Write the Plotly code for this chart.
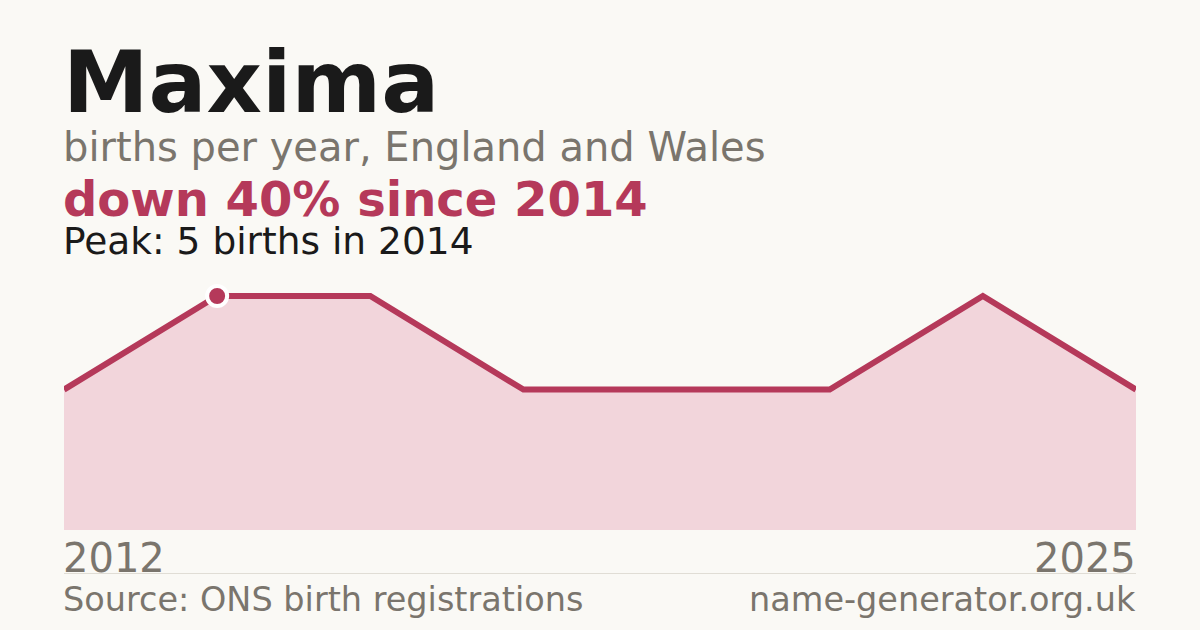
import plotly.graph_objects as go

# ---- data ----
years = [2012, 2014, 2016, 2018, 2020, 2022, 2024, 2025]
births = [3, 5, 5, 3, 3, 3, 5, 3]
first_label = "2012"
last_label = "2025"

title = "Maxima"
subtitle = "births per year, England and Wales"
headline = "down 40% since 2014"
peak_text = "Peak: 5 births in 2014"
source_text = "Source: ONS birth registrations"
site_text = "name-generator.org.uk"

# ---- styling ----
BG = "#faf9f5"
RED = "#b5395a"
FILL = "#f2d5db"
DARK = "#1a1a1a"
GREY = "#7a756d"
FONT = "DejaVu Sans"

W, H = 1200, 630
PLOT_TOP, PLOT_BOT = 270, 530
PH = PLOT_BOT - PLOT_TOP


def py(pix):
    return (PLOT_BOT - pix) / PH


def bottom_for(baseline, size):
    return py(baseline + 0.236 * size + 1)


xs = list(range(len(births)))
peak_i = births.index(max(births))
ymax = max(births)
yrange_top = ymax * PH / (PLOT_BOT - 296)

fig = go.Figure()
fig.add_trace(go.Scatter(
    x=xs, y=births, mode="lines",
    line=dict(color=RED, width=6, shape="linear"),
    fill="tozeroy", fillcolor=FILL, hoverinfo="skip",
))
fig.add_trace(go.Scatter(
    x=[xs[peak_i]], y=[births[peak_i]], mode="markers",
    marker=dict(color=RED, size=20, line=dict(color="white", width=4)),
    cliponaxis=False, hoverinfo="skip",
))

ann = []


def text(x, y, s, size, color, bold=False, xanchor="left", xref="paper", yref="paper", xshift=0):
    ann.append(dict(
        x=x, y=y, xref=xref, yref=yref, text=("<b>%s</b>" % s) if bold else s,
        showarrow=False, xanchor=xanchor, yanchor="bottom", xshift=xshift,
        font=dict(family=FONT, size=size, color=color),
    ))


text(0, bottom_for(113, 86), title, 86, DARK, bold=True, xshift=-3)
text(0, bottom_for(161.5, 40), subtitle, 40, GREY, xshift=-3)
text(0, bottom_for(216.5, 48), headline, 48, RED, bold=True, xshift=-3)
text(0, bottom_for(255, 37.5), peak_text, 37.5, DARK, xshift=-3)
text(xs[0], bottom_for(573, 40), first_label, 40, GREY, xref="x", xshift=-3)
text(xs[-1], bottom_for(573, 40), last_label, 40, GREY, xanchor="right", xref="x", xshift=2)
text(0, bottom_for(612, 33.5), source_text, 33.5, GREY, xshift=-3)
text(1, bottom_for(612, 33.5), site_text, 33.5, GREY, xanchor="right", xshift=2)

fig.update_layout(
    width=W, height=H,
    paper_bgcolor=BG, plot_bgcolor=BG,
    margin=dict(l=64, r=64, t=PLOT_TOP, b=H - PLOT_BOT, pad=0),
    showlegend=False,
    xaxis=dict(range=[xs[0], xs[-1]], visible=False, fixedrange=True),
    yaxis=dict(range=[0, yrange_top], visible=False, fixedrange=True),
    annotations=ann,
    shapes=[dict(type="line", xref="paper", yref="paper", x0=0, x1=1,
                 y0=py(573.5), y1=py(573.5),
                 line=dict(color="#e0ddd5", width=1))],
)

fig.write_html(
    "out.html",
    config=dict(displayModeBar=False),
    post_script="document.body.style.margin='0';document.body.style.background='%s';" % BG,
)
